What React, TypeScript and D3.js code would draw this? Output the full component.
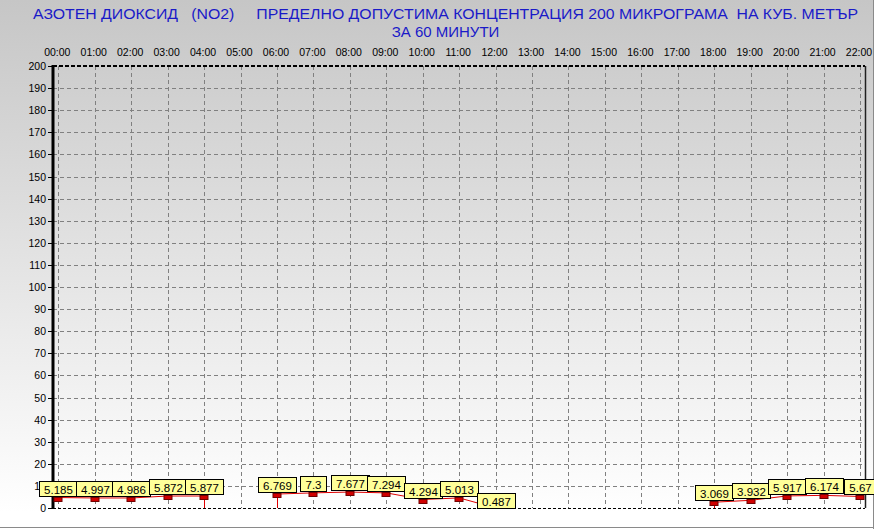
import React from "react";
import * as d3 from "d3";

const titleLine1 = "АЗОТЕН ДИОКСИД   (NO2)     ПРЕДЕЛНО ДОПУСТИМА КОНЦЕНТРАЦИЯ 200 МИКРОГРАМА  НА КУБ. МЕТЪР";
const titleLine2 = "ЗА 60 МИНУТИ";

const hours = [
  "00:00", "01:00", "02:00", "03:00", "04:00", "05:00", "06:00", "07:00",
  "08:00", "09:00", "10:00", "11:00", "12:00", "13:00", "14:00", "15:00",
  "16:00", "17:00", "18:00", "19:00", "20:00", "21:00", "22:00",
];

const values: (number | null)[] = [
  5.185, 4.997, 4.986, 5.872, 5.877, null, 6.769, 7.3,
  7.677, 7.294, 4.294, 5.013, 0.487, null, null, null,
  null, null, 3.069, 3.932, 5.917, 6.174, 5.67,
];

const labels: (string | null)[] = [
  "5.185", "4.997", "4.986", "5.872", "5.877", null, "6.769", "7.3",
  "7.677", "7.294", "4.294", "5.013", "0.487", null, null, null,
  null, null, "3.069", "3.932", "5.917", "6.174", "5.67",
];

const yTicks = d3.range(0, 201, 10);

const W = 874;
const H = 529;
const plotLeft = 53;
const plotRight = 865;
const plotTop = 66;
const plotBottom = 508;

export default function App() {
  const x = d3.scaleLinear().domain([0, 22]).range([58.3, 860]);
  const y = d3.scaleLinear().domain([0, 200]).range([plotBottom, plotTop]);

  const pts = values.map((v, i) => ({ i, v }));
  const line = d3
    .line<{ i: number; v: number | null }>()
    .defined((d) => d.v !== null)
    .x((d) => x(d.i))
    .y((d) => y(d.v as number) + 1);

  // drop lines at gap edges
  const drops: number[] = [];
  values.forEach((v, i) => {
    if (v === null) return;
    const prevNull = i > 0 && values[i - 1] === null;
    const nextNull = i < values.length - 1 && values[i + 1] === null;
    if (prevNull || nextNull) drops.push(i);
  });

  const font = "'Liberation Sans', Arial, sans-serif";

  return (
    <svg
      width={W}
      height={H}
      style={{ position: "absolute", left: 0, top: 0, display: "block" }}
      fontFamily={font}
    >
      <defs>
        <linearGradient id="bg2" x1="0" y1="0" x2="0" y2={512} gradientUnits="userSpaceOnUse">
          <stop offset="0" stopColor="#c6c6c6" />
          <stop offset="1" stopColor="#ffffff" />
        </linearGradient>
        <clipPath id="plotClip">
          <rect x={plotLeft} y={plotTop} width={plotRight - plotLeft} height={plotBottom - plotTop} />
        </clipPath>
      </defs>
      <rect x={0} y={0} width={W} height={H} fill="#ffffff" />
      <rect x={0} y={0} width={W} height={512} fill="url(#bg2)" />
      {/* outer border */}
      <line x1={873.5} y1={0} x2={873.5} y2={H} stroke="#8a8a8a" />
      <line x1={0} y1={527.5} x2={W} y2={527.5} stroke="#8a8a8a" />

      {/* title */}
      <text
        x={445.5}
        y={19}
        textAnchor="middle"
        fontSize={15}
        fill="#1a1ac8"
        style={{ whiteSpace: "pre" }}
        textLength={825}
        lengthAdjust="spacingAndGlyphs"
      >
        {titleLine1}
      </text>
      <text x={445.5} y={37} textAnchor="middle" fontSize={15} fill="#1a1ac8">
        {titleLine2}
      </text>

      {/* horizontal grid */}
      {yTicks
        .filter((t) => t > 0 && t < 200)
        .map((t) => (
          <line
            key={"h" + t}
            x1={plotLeft}
            x2={plotRight}
            y1={Math.round(y(t)) + 0.5}
            y2={Math.round(y(t)) + 0.5}
            stroke="#808080"
            strokeDasharray="4,3"
          />
        ))}
      {/* vertical grid */}
      {hours.map((h, i) => (
        <line
          key={"v" + h}
          x1={Math.round(x(i)) + 0.5}
          x2={Math.round(x(i)) + 0.5}
          y1={plotTop}
          y2={plotBottom}
          stroke="#808080"
          strokeDasharray="4,3"
        />
      ))}

      {/* borders */}
      <line x1={plotLeft} x2={plotRight} y1={plotTop} y2={plotTop} stroke="#000" strokeWidth={2} strokeDasharray="4,2" />
      <line x1={plotLeft} x2={plotRight} y1={plotBottom + 0.5} y2={plotBottom + 0.5} stroke="#000" strokeDasharray="3,2" />
      <line x1={plotRight + 0.5} x2={plotRight + 0.5} y1={plotTop} y2={plotBottom} stroke="#202020" strokeWidth={1.5} />
      <line x1={plotLeft} x2={plotLeft} y1={plotTop - 1} y2={plotBottom + 1} stroke="#000" strokeWidth={3} />

      {/* y ticks and labels */}
      {yTicks.map((t) => (
        <g key={"yt" + t}>
          <line x1={48} x2={53} y1={Math.round(y(t)) + 0.5} y2={Math.round(y(t)) + 0.5} stroke="#000" />
          <text x={46} y={y(t) + 4} textAnchor="end" fontSize={10.5} fill="#000">
            {t}
          </text>
        </g>
      ))}

      {/* x labels at top */}
      {hours.map((h, i) => (
        <text key={"xl" + h} x={x(i) - 1} y={56} textAnchor="middle" fontSize={10.5} fill="#000">
          {h}
        </text>
      ))}

      {/* series line */}
      <g clipPath="url(#plotClip)">
        <path d={line(pts) || ""} fill="none" stroke="#e00000" strokeWidth={1} />
        {drops.map((i) => (
          <line
            key={"d" + i}
            x1={Math.round(x(i)) + 0.5}
            x2={Math.round(x(i)) + 0.5}
            y1={y(values[i] as number)}
            y2={plotBottom}
            stroke="#e00000"
          />
        ))}

        {/* markers */}
        {values.map((v, i) =>
          v === null ? null : (
            <rect
              key={"m" + i}
              x={Math.round(x(i)) - 4}
              y={Math.round(y(v)) + 0.5}
              width={8}
              height={4}
              fill="#d00000"
              stroke="#700000"
              strokeWidth={1}
            />
          )
        )}
      </g>

      {/* value labels */}
      {values.map((v, i) => {
        if (v === null) return null;
        const txt = labels[i] as string;
        const digits = txt.replace(".", "").length;
        const tw = digits * 6 + (txt.includes(".") ? 3 : 0);
        const bw = tw + 11;
        const bh = 15;
        let bottom = Math.round(y(v)) - 1;
        if (v < 1) bottom = plotBottom;
        const cx = Math.round(x(i));
        return (
          <g key={"l" + i}>
            <rect
              x={cx - Math.round(bw / 2) + 0.5}
              y={bottom - bh + 0.5}
              width={bw}
              height={bh}
              fill="#ffff99"
              stroke="#000"
              strokeWidth={1}
            />
            <text x={cx + 0.5} y={bottom - 2.5} textAnchor="middle" fontSize={11.5} fill="#000">
              {txt}
            </text>
          </g>
        );
      })}
    </svg>
  );
}
